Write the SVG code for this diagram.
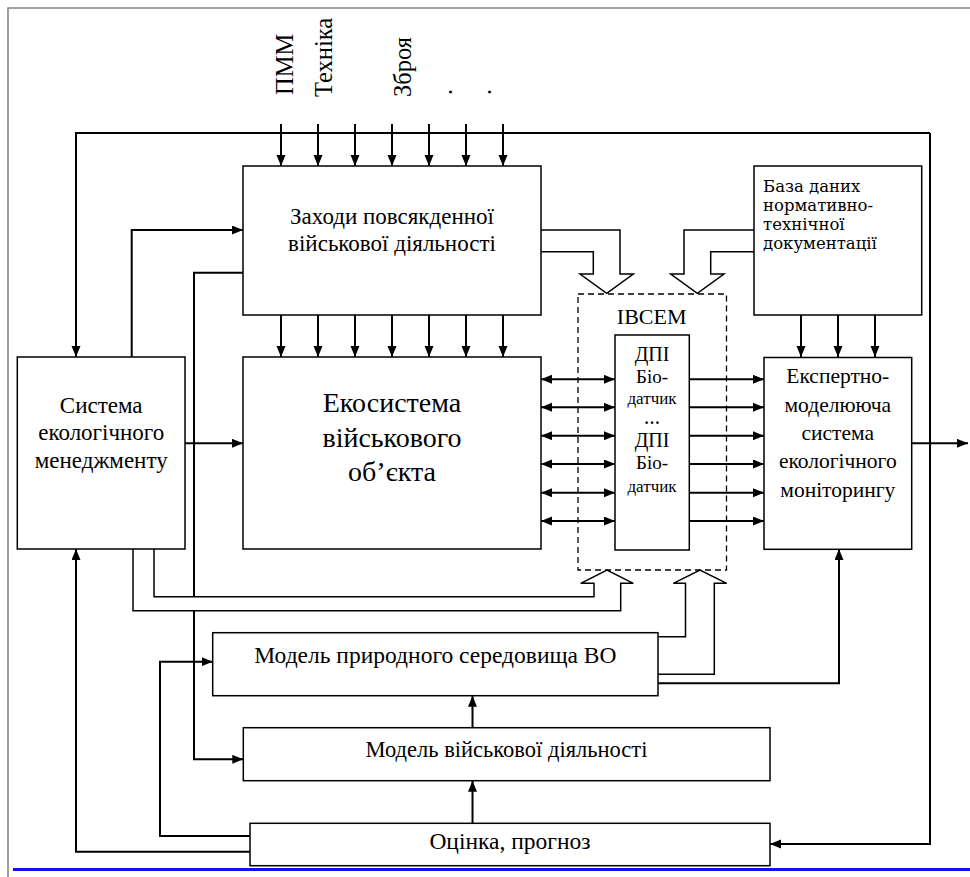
<svg xmlns="http://www.w3.org/2000/svg" width="970" height="877" viewBox="0 0 970 877">
<defs>
<marker id="ah" markerUnits="userSpaceOnUse" markerWidth="12" markerHeight="10" refX="11" refY="4.5" orient="auto-start-reverse"><path d="M0,0 L11,4.5 L0,9 z" fill="#000"/></marker>
<style>
.box{fill:#fff;stroke:#000;stroke-width:1.5}
.dash{fill:none;stroke:#000;stroke-width:1.3;stroke-dasharray:6 4}
.c{fill:none;stroke:#000;stroke-width:2}
.h{fill:#fff;stroke:#000;stroke-width:1.5}
.a{marker-end:url(#ah)}
.d{marker-start:url(#ah);marker-end:url(#ah)}
.m{text-anchor:middle}
</style>
</defs>
<rect width="970" height="877" fill="#fff"/>
<g id="frame">
<path d="M8,877 V8 H970" fill="none" stroke="#808080" stroke-width="1.5"/>
<line x1="13" y1="869.5" x2="970" y2="869.5" stroke="#1010f0" stroke-width="3"/>
</g>
<g id="inputs" font-family="Times New Roman" font-size="24.5">
<text transform="translate(293,95) rotate(-90)">ПММ</text>
<text transform="translate(332,97) rotate(-90)">Техніка</text>
<text transform="translate(411,97) rotate(-90)">Зброя</text>
<text transform="translate(451.5,95) rotate(-90)">.</text>
<text transform="translate(491,95) rotate(-90)">.</text>
</g>
<g id="connectors">
<path class="c a" d="M281,315 V357"/><path class="c a" d="M318,315 V357"/><path class="c a" d="M355,315 V357"/><path class="c a" d="M392,315 V357"/><path class="c a" d="M429,315 V357"/><path class="c a" d="M466,315 V357"/><path class="c a" d="M503,315 V357"/>
<path class="c a" d="M281,124 V166"/><path class="c a" d="M318,124 V166"/><path class="c a" d="M355,124 V166"/><path class="c a" d="M392,124 V166"/><path class="c a" d="M429,124 V166"/><path class="c a" d="M466,124 V166"/><path class="c a" d="M503,124 V166"/>
<path class="c a" d="M801,315 V357"/><path class="c a" d="M838,315 V357"/><path class="c a" d="M875,315 V357"/>
<path class="c a" d="M930,133 H76 V357"/>
<path class="c a" d="M930,133 V844 H770"/>
<path class="c a" d="M131.7,357 V230 H243"/>
<path class="c a" d="M243,272.7 H194 V759.3 H243.3"/>
<path class="c a" d="M185,443.3 H243"/>
<path class="c a" d="M911.7,443.3 H968"/>
<path class="c a" d="M250,836 H160 V661.7 H212.7"/>
<path class="c a" d="M250,851.7 H76 V549"/>
<path class="c a" d="M472.5,823.3 V780.7"/>
<path class="c a" d="M472.5,727.7 V695.7"/>
<path class="c a" d="M658,683.3 H839 V549"/>
<path class="c d" d="M541,379.3 H615"/><path class="c d" d="M541,407.3 H615"/><path class="c d" d="M541,435.7 H615"/><path class="c d" d="M541,464 H615"/><path class="c d" d="M541,492.7 H615"/><path class="c d" d="M541,521 H615"/>
<path class="c a" d="M689.3,379.3 H764"/><path class="c a" d="M689.3,407.3 H764"/><path class="c a" d="M689.3,435.7 H764"/><path class="c a" d="M689.3,464 H764"/><path class="c a" d="M689.3,492.7 H764"/><path class="c a" d="M689.3,521 H764"/>
<path class="h" d="M541,230 H620 V274 H633.3 L606.7,293.3 L580,274 H593.3 V251.7 H541"/>
<path class="h" d="M754,230 H684 V274 H670.7 L697.3,293.3 L724,274 H710.7 V251.7 H754"/>
<path class="h" d="M154,549 V596.7 H594 V583.3 H580.7 L607,570 L633.3,583.3 H620.7 V610.7 H133 V549" fill="none"/>
<path class="h" d="M658,636.7 H685.5 V583.3 H673.3 L700,570 L726.7,583.3 H714.3 V674.3 H658" fill="none"/>
</g>
<g font-family="Liberation Serif">
<g id="zakhody">
<rect class="box" x="243" y="166" width="298" height="149"/>
<text class="m" x="392" y="224" font-size="23">Заходи повсякденної</text>
<text class="m" x="392" y="251" font-size="23">військової діяльності</text>
</g>
<g id="ekosystema">
<rect class="box" x="243" y="357" width="298" height="192"/>
<text class="m" x="392" y="412" font-size="28">Екосистема</text>
<text class="m" x="392" y="447" font-size="28">військового</text>
<text class="m" x="392" y="481" font-size="28">об’єкта</text>
</g>
<g id="systema">
<rect class="box" x="17.3" y="357" width="167.7" height="192"/>
<text class="m" x="101.2" y="413" font-size="23">Система</text>
<text class="m" x="101.2" y="440" font-size="23">екологічного</text>
<text class="m" x="101.2" y="468" font-size="23">менеджменту</text>
</g>
<g id="baza" font-family="DejaVu Serif" font-size="16.5">
<rect class="box" x="754" y="166" width="167.7" height="149"/>
<text x="763" y="192">База даних</text>
<text x="763" y="211">нормативно-</text>
<text x="763" y="230">технічної</text>
<text x="763" y="248.5">документації</text>
</g>
<g id="ibcem">
<rect class="dash" x="578" y="294" width="148.5" height="276"/>
<text class="m" x="651.7" y="324" font-size="22">ІВСЕМ</text>
</g>
<g id="dpi">
<rect class="box" x="615" y="335" width="74.3" height="215"/>
<text class="m" x="652" y="360.7" font-size="20">ДПІ</text>
<text class="m" x="652" y="383.3" font-size="19">Біо-</text>
<text class="m" x="652" y="404" font-size="17">датчик</text>
<text class="m" x="652" y="424" font-size="16" font-weight="bold">…</text>
<text class="m" x="652" y="446.7" font-size="20">ДПІ</text>
<text class="m" x="652" y="469.3" font-size="19">Біо-</text>
<text class="m" x="652" y="491.7" font-size="17">датчик</text>
</g>
<g id="ekspert">
<rect class="box" x="764" y="357.5" width="147.7" height="191.8"/>
<text class="m" x="837.8" y="383.4" font-size="21.5">Експертно-</text>
<text class="m" x="837.8" y="411.7" font-size="21.5">моделююча</text>
<text class="m" x="837.8" y="440" font-size="21.5">система</text>
<text class="m" x="837.8" y="468.3" font-size="21.5">екологічного</text>
<text class="m" x="837.8" y="496.7" font-size="21.5">моніторингу</text>
</g>
<g id="model-pryrod">
<rect class="box" x="212.7" y="632.7" width="445.3" height="63"/>
<text class="m" x="435.4" y="663.3" font-size="23.5">Модель природного середовища ВО</text>
</g>
<g id="model-viysk">
<rect class="box" x="243.3" y="727.7" width="526.7" height="53"/>
<text class="m" x="506.5" y="756.7" font-size="22.5">Модель військової діяльності</text>
</g>
<g id="otsinka">
<rect class="box" x="250" y="823.3" width="520" height="42.4"/>
<text class="m" x="510" y="849" font-size="23.5">Оцінка, прогноз</text>
</g>
</g>
</svg>
